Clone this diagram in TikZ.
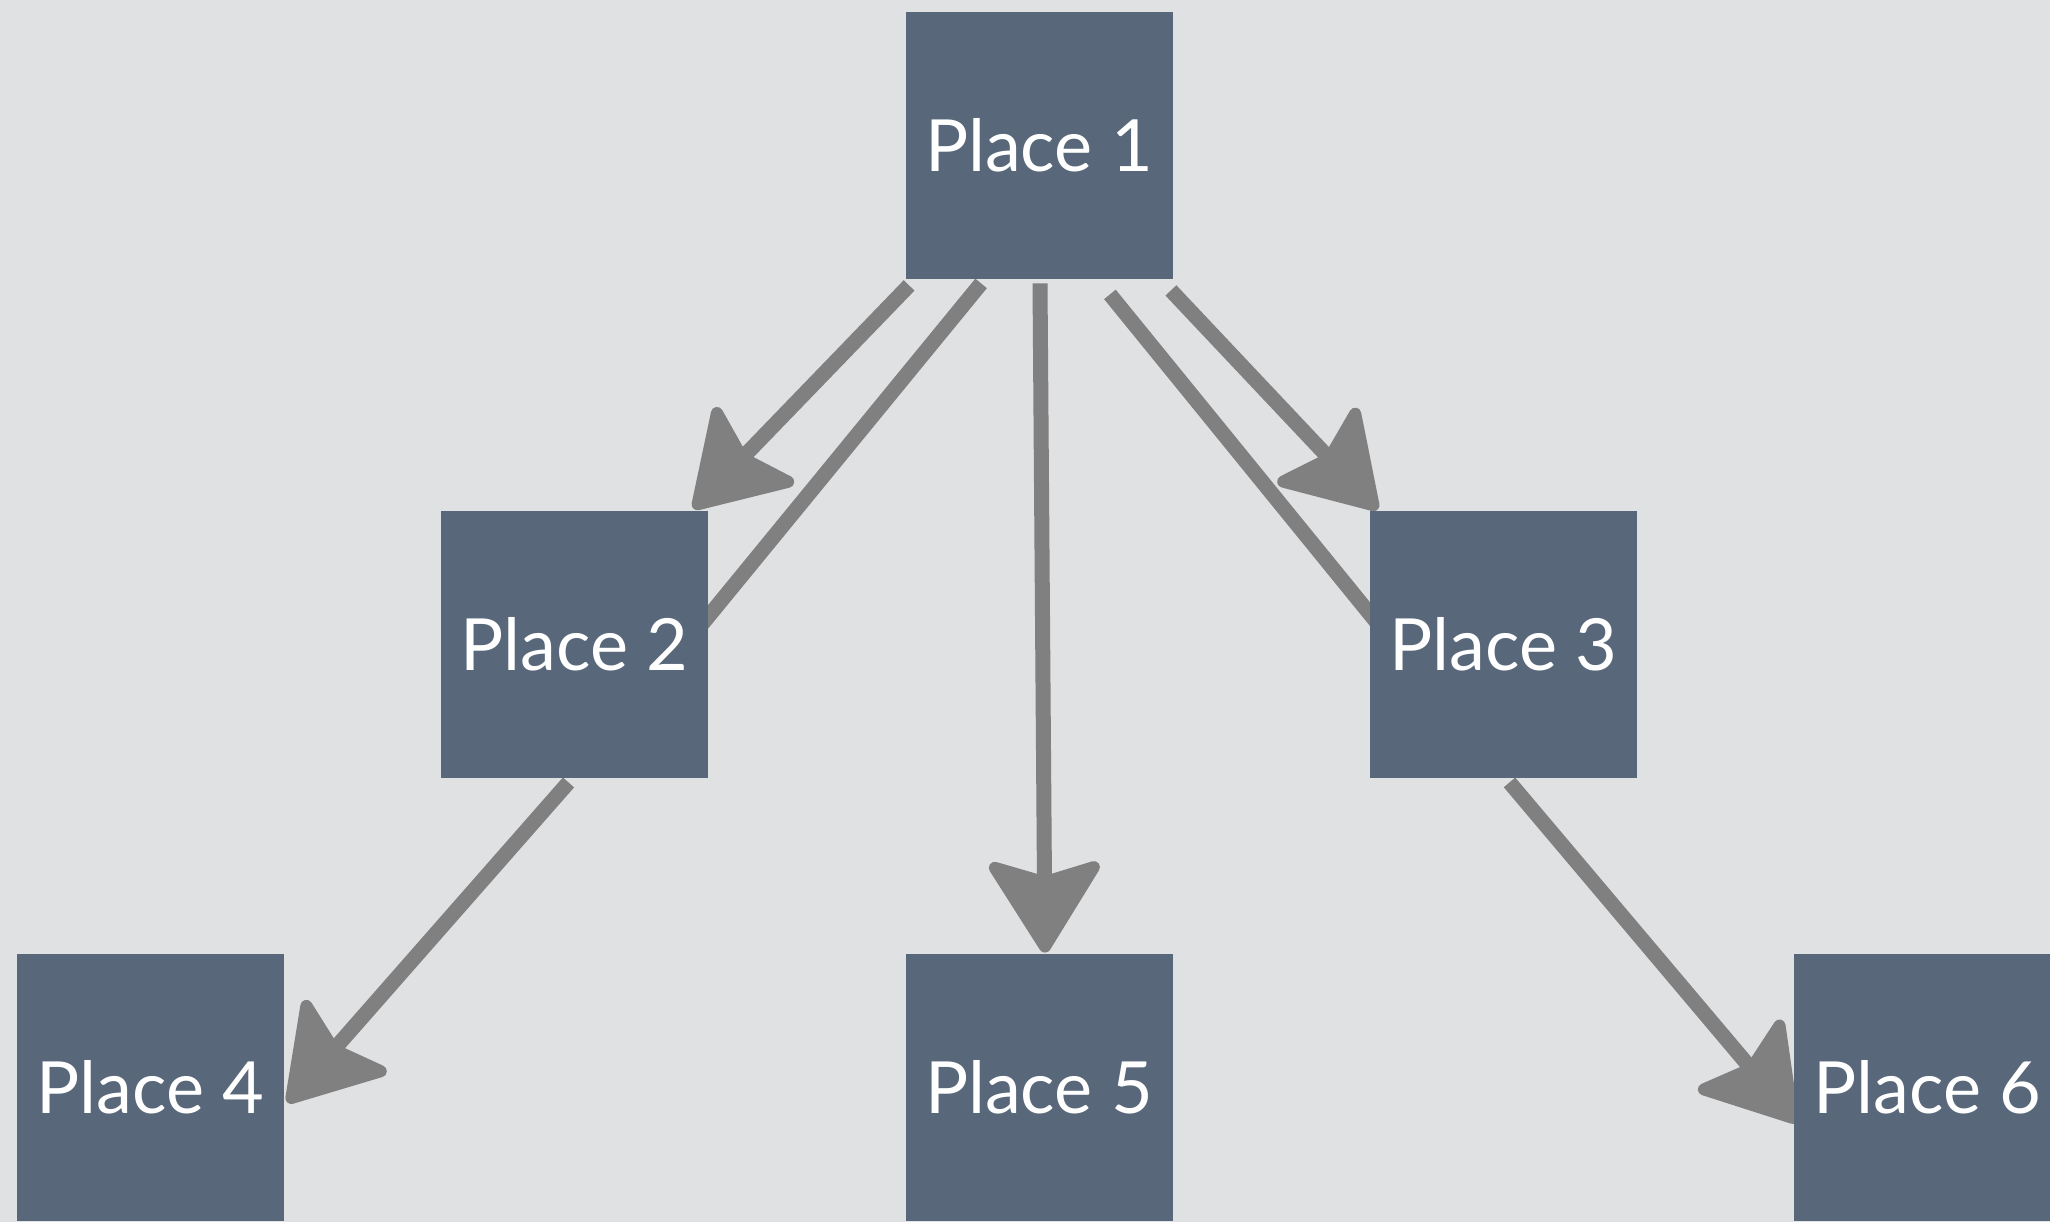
\documentclass[tikz,border=0pt]{standalone}
\usepackage{fontspec}
\setmainfont{Lato}
\usetikzlibrary{arrows.meta}
\definecolor{paper}{HTML}{E0E1E3}
\definecolor{slate}{HTML}{586779}
\definecolor{chalk}{HTML}{808080}
\pgfdeclarelayer{paperlayer}
\pgfdeclarelayer{edgelayer}
\pgfsetlayers{paperlayer,edgelayer,main}
\begin{document}
\begin{tikzpicture}[x=0.5pt,y=-0.5pt,
  place/.style={fill=slate, minimum width=133.5pt, minimum height=133.5pt, inner sep=0pt,
                text=white, font=\fontsize{36}{40}\selectfont},
  link/.style={draw=chalk, line width=7.5pt},
  arrowlink/.style={link, -{Stealth[length=50pt,width=62pt,inset=9pt,line width=6pt,round]}}]
\begin{pgfonlayer}{paperlayer}
\fill[paper] (0,0) rectangle (2050,1222);
\end{pgfonlayer}
\useasboundingbox (0,0) rectangle (2050,1222);
\clip (0,0) rectangle (2050,1222);

\node[place] (p1) at (1039,145.5) {Place 1};
\node[place] (p2) at (574.5,644.5) {Place 2};
\node[place] (p3) at (1503.5,644.5) {Place 3};
\node[place] (p4) at (150.5,1087.5) {Place 4};
\node[place] (p5) at (1039,1087.5) {Place 5};
\node[place] (p6) at (1927.5,1087.5) {Place 6};

\begin{pgfonlayer}{edgelayer}
\draw[arrowlink] ([shift={(4,6)}]p1.south west) -- ([shift={(-15,-2)}]p2.north east);
\draw[link] ([shift={(76,4)}]p1.south west) -- ([shift={(-23,0)}]p2.east);
\draw[arrowlink] ([shift={(1,4)}]p1.south) -- ([shift={(6,-1)}]p5.north);
\draw[link] ([shift={(-63,15)}]p1.south east) -- ([shift={(30,6)}]p3.west);
\draw[arrowlink] ([shift={(-2,11)}]p1.south east) -- ([shift={(8,-1)}]p3.north west);
\draw[arrowlink] ([shift={(-6,4)}]p2.south) -- ([shift={(3,15)}]p4.east);
\draw[arrowlink] ([shift={(6,4)}]p3.south) -- ([shift={(3,35)}]p6.west);
\end{pgfonlayer}
\end{tikzpicture}
\end{document}
